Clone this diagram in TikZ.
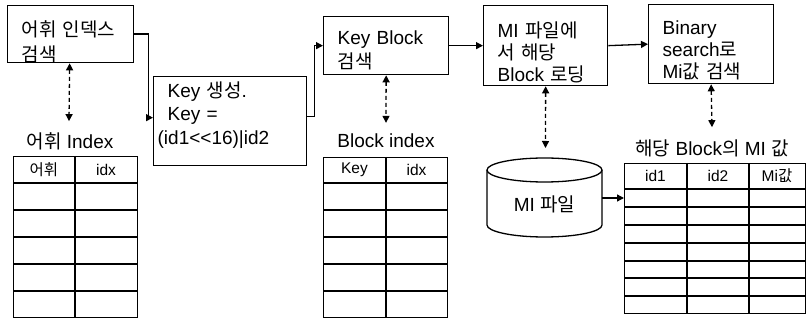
\documentclass[tikz,border=0pt]{standalone}
\usepackage{fontspec}
\setmainfont{Liberation Sans}
\newfontfamily\kr{Noto Sans CJK KR}
\usetikzlibrary{arrows.meta}

\begin{document}
\begin{tikzpicture}[x=1pt,y=-1pt,
  every node/.style={inner sep=0pt},
  stepbox/.style={draw, line width=1.3pt, anchor=north west, align=left,
    inner xsep=14pt, inner ysep=0pt, text height=0pt,
    font=\fontsize{19}{23.5}\selectfont},
  caption/.style={font=\fontsize{19}{22}\selectfont},
  tbl/.style={draw, line width=1.3pt, anchor=north west},
  grid/.style={line width=1.1pt},
  head/.style={font=\fontsize{15.5}{17}\selectfont},
  conn/.style={line width=1.3pt, -{Triangle[length=7pt,width=7pt]}},
  dconn/.style={line width=1.3pt, dash pattern=on 4pt off 3pt,
    {Triangle[length=7pt,width=7pt]}-{Triangle[length=7pt,width=7pt]}}
]
\useasboundingbox (0,0) rectangle (807,320);

% processing steps (text height/depth place the first baseline inside each box)
\node[stepbox, text width=98pt, minimum height=57pt, text height=9pt, text depth=4pt,
  font=\fontsize{19}{24.5}\selectfont] (b1) at (7,5)
  {{\kr 어휘 인덱스}\\{\kr 검색}};
\node[stepbox, text width=125pt, minimum height=89pt, text depth=48pt] (b2) at (153,76)
  {Key {\kr 생성}.\\Key =\\\hspace*{-10pt}(id1{<}{<}16)|id2};
\node[stepbox, text width=97pt, minimum height=58pt, text depth=3pt,
  font=\fontsize{19}{24}\selectfont] (b3) at (323,16)
  {Key Block\\{\kr 검색}};
\node[stepbox, text width=96pt, minimum height=80pt, text height=6pt, text depth=23pt,
  font=\fontsize{19}{22}\selectfont] (b4) at (483,5)
  {MI {\kr 파일에}\\{\kr 서 해당}\\Block {\kr 로딩}};
\node[stepbox, text width=97pt, minimum height=79pt, text height=4pt, text depth=24pt,
  font=\fontsize{19}{22}\selectfont] (b5) at (648,4)
  {Binary\\search{\kr 로}\\Mi{\kr 값 검색}};

% table captions
\node[caption] (l1) at (70,141) {{\kr 어휘} Index};
\node[caption] (l2) at (386,141) {Block index};
\node[caption] (l4) at (712,148) {{\kr 해당} Block{\kr 의} MI {\kr 값}};

% vocabulary index table
\node[tbl, minimum width=124pt, minimum height=161pt] (t1) at (13,156) {};
\draw[grid] (75,156) -- (75,317);
\foreach \y in {183,210,237,264,291} \draw[grid] (13,\y) -- (137,\y);
\node[head] (t1a) at (44,170) {\kr 어휘};
\node[head] (t1b) at (106,170) {idx};

% block index table
\node[tbl, minimum width=124pt, minimum height=160pt] (t2) at (323,157) {};
\draw[grid] (386,157) -- (386,317);
\foreach \y in {183,210,237,264,291} \draw[grid] (323,\y) -- (447,\y);
\node[head] (t2a) at (354.5,170) {Key};
\node[head] (t2b) at (416.5,170) {idx};

% MI values of the block
\node[tbl, minimum width=181pt, minimum height=150pt] (t3) at (624,163) {};
\draw[grid] (687,163) -- (687,313);
\draw[grid] (749,163) -- (749,313);
\foreach \y in {189,207,225,243,261,278,296} \draw[grid] (624,\y) -- (805,\y);
\node[head] (t3a) at (655.5,176) {id1};
\node[head] (t3b) at (718,176) {id2};
\node[head] (t3c) at (777,176) {Mi{\kr 값}};

% MI file cylinder
\draw[line width=1.3pt] (544.5,170) ellipse [x radius=57.5pt, y radius=12pt];
\draw[line width=1.3pt] (487,170) -- (487,225)
  arc[start angle=180, end angle=360, x radius=57.5pt, y radius=12pt] -- (602,170);
\node[caption] (cyl) at (544.5,204) {MI {\kr 파일}};
\coordinate (cylE) at (602,198);
\coordinate (cylN) at (545.5,158);
\coordinate (t3in) at (624,198);

% control flow
\draw[conn] (b1.east) -- ++(14,0) |- ([yshift=3.5pt]b2.west);
\draw[conn] ([yshift=4.5pt]b2.east) -- ++(7,0) |- (b3.west);
\draw[conn] (b3.east) -- (b4.west);
\draw[conn] (b4.east) -- (b5.west);
\draw[conn] (cylE) -- (t3in);

% data access
\draw[dconn] ([xshift=-1pt]b1.south) -- ([xshift=-1pt, yshift=11pt]l1.north);
\draw[dconn] (b3.south) -- ([yshift=11pt]l2.north);
\draw[dconn] (b4.south) -- ([yshift=10pt]cylN);
\draw[dconn] (b5.south) -- ([yshift=12pt]l4.north);
\end{tikzpicture}
\end{document}
